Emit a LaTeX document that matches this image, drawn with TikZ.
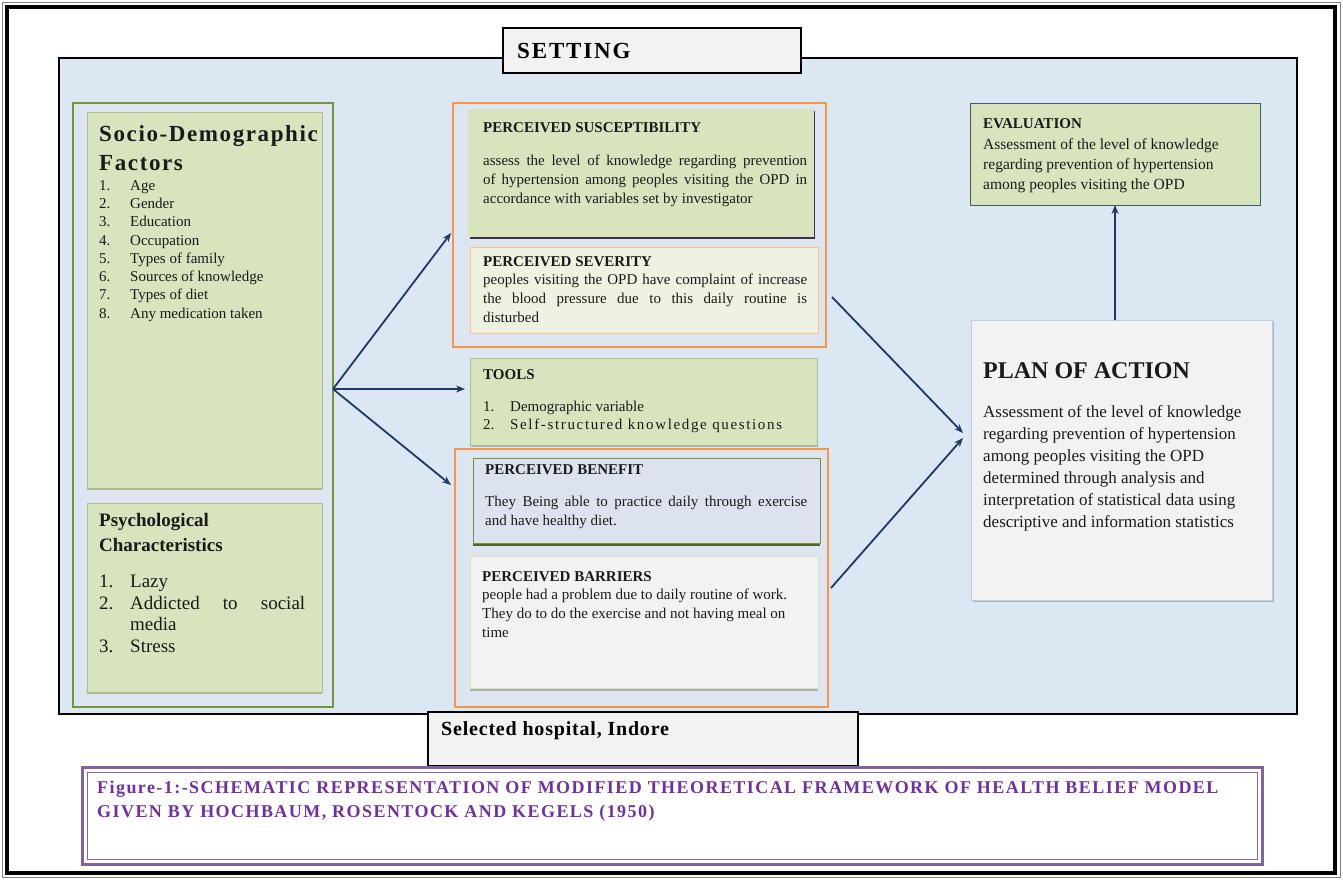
\documentclass[tikz,border=0pt]{standalone}
\usepackage{fontspec}
\setmainfont{Liberation Serif}
\usetikzlibrary{arrows.meta, positioning, calc, shadows}
\definecolor{ink}{HTML}{1A1A1A}
\definecolor{panelbg}{HTML}{DCE7F4}
\definecolor{framebg}{HTML}{DDE5F0}
\definecolor{olive}{HTML}{D7E4BD}
\definecolor{olivedk}{HTML}{77933C}
\definecolor{oliveshd}{HTML}{4F6228}
\definecolor{orng}{HTML}{F79646}
\definecolor{orngsoft}{HTML}{FAC08F}
\definecolor{sevfill}{HTML}{EEF2E0}
\definecolor{benfill}{HTML}{DCE3EF}
\definecolor{plumshd}{HTML}{3F3151}
\definecolor{paper}{HTML}{F2F2F2}
\definecolor{greyshd}{HTML}{A6A6A6}
\definecolor{evalrule}{HTML}{4A5866}
\definecolor{planrule}{HTML}{B7CDE5}
\definecolor{navy}{HTML}{1F3864}
\definecolor{capink}{HTML}{7030A0}
\definecolor{caprule}{HTML}{8064A2}
\newcommand{\fs}[2]{\fontsize{#1}{#2}\selectfont}
\newcommand{\num}[2][31pt]{\makebox[#1][l]{#2}}
\tikzset{
  >={Stealth[length=9pt, width=7pt]},
  %
  box/.style={draw, line width=0.8pt, inner sep=0pt, outer sep=0pt,
    anchor=north west},
  oliveb/.style={box, draw=olivedk!60, fill=olive},
  frameg/.style={box, draw=olivedk, line width=1.6pt, fill=framebg},
  frameo/.style={box, draw=orng, line width=1.8pt, fill=framebg},
  label/.style={box, draw=black, line width=2pt, fill=paper},
  %
  flow/.style={draw=navy, line width=1.8pt, ->},
  %
  ttl/.style={inner sep=0pt, anchor=north west, text=ink,
    font=\bfseries\fs{15}{17}},
  body/.style={inner sep=0pt, anchor=north west, text=ink, align=left,
    font=\fs{15}{19}},
}
\begin{document}
\begin{tikzpicture}[x=1pt, y=-1pt]
  \useasboundingbox (0,0) rectangle (1343,880);
  \fill[white] (0,0) rectangle (1343,880);

  % outer frame
  \draw[gray, line width=1.2pt] (2.5,2.5) rectangle (1340.5,877.5);
  \draw[black, line width=3.2pt] (7,7) rectangle (1335,873);

  % blue setting panel
  \node[box, draw=black, line width=2.4pt, fill=panelbg,
        minimum width=1238pt, minimum height=656pt] (panel) at (59,58) {};
  \node[label, minimum width=298pt, minimum height=45pt] (setting) at (503,28) {};
  \node[anchor=west, inner sep=0pt, font=\bfseries\fs{23}{26}\addfontfeature{LetterSpace=8}]
    (settingtxt) at (517,51) {SETTING};

  % =====================================================================
  % LEFT: factors
  % =====================================================================
  \node[frameg, minimum width=260pt, minimum height=604pt] (gframe) at (73,103) {};
  \node[oliveb, minimum width=235pt, minimum height=376pt,
        drop shadow={shadow xshift=0pt, shadow yshift=-2pt, fill=olivedk!70, opacity=.8}]
    (socio) at (87,112) {};
  \node[oliveb, minimum width=235pt, minimum height=189pt,
        drop shadow={shadow xshift=0pt, shadow yshift=-2pt, fill=olivedk!70, opacity=.8}]
    (psych) at (87,503) {};

  \node[body, font=\bfseries\fs{23}{29}\addfontfeature{LetterSpace=7}] (sociottl) at (99,125)
    {Socio-Demographic\\Factors};
  \node[body, font=\fs{15}{18.3}] (sociolist) at (99,180)
    {\num{1.}Age\\ \num{2.}Gender\\ \num{3.}Education\\ \num{4.}Occupation\\
     \num{5.}Types of family\\ \num{6.}Sources of knowledge\\
     \num{7.}Types of diet\\ \num{8.}Any medication taken};

  \node[body, font=\bfseries\fs{19}{25}] (psychttl) at (99,513)
    {Psychological\\Characteristics};
  \node[body, font=\fs{19}{21.5}] (psychlist) at (99,575)
    {\num{1.}Lazy\\ \num{2.}\makebox[175pt][s]{Addicted to social}\\
     \hspace*{31pt}media\\ \num{3.}Stress};

  % =====================================================================
  % MIDDLE: perceptions and tools
  % =====================================================================
  \node[frameo, minimum width=373pt, minimum height=244pt] (ob1) at (453,103) {};
  \node[oliveb, draw=olive, minimum width=345pt, minimum height=127pt,
        drop shadow={shadow xshift=2pt, shadow yshift=-2.5pt, fill=plumshd, opacity=1}]
    (susc) at (468,109) {};
  \node[box, draw=orngsoft, fill=sevfill, minimum width=348pt, minimum height=86pt]
    (sev) at (470,247) {};

  \node[ttl] (suscttl) at (483,122) {PERCEIVED SUSCEPTIBILITY};
  \node[body, text width=324pt, align=justify] (susctxt) at (483,155)
    {assess the level of knowledge regarding prevention\linebreak
     of hypertension among peoples visiting the OPD in\linebreak
     accordance with variables set by investigator};
  \node[ttl] (sevttl) at (483,256) {PERCEIVED SEVERITY};
  \node[body, text width=324pt, align=justify] (sevtxt) at (483,274)
    {peoples visiting the OPD have complaint of increase\linebreak
     the blood pressure due to this daily routine is\linebreak
     disturbed};

  \node[oliveb, minimum width=347pt, minimum height=87pt,
        drop shadow={shadow xshift=1pt, shadow yshift=-1.5pt, fill=greyshd, opacity=.8}]
    (tools) at (470,358) {};
  \node[ttl] (toolsttl) at (483,369) {TOOLS};
  \node[body, font=\fs{15}{18.3}] (toolslist) at (483,401)
    {\num[27pt]{1.}Demographic variable\\
     \num[27pt]{2.}\addfontfeature{LetterSpace=11}Self-structured knowledge questions};

  \node[frameo, minimum width=373pt, minimum height=258pt] (ob2) at (455,449) {};
  \node[box, draw=olivedk, fill=benfill, minimum width=347pt, minimum height=85pt,
        drop shadow={shadow xshift=0pt, shadow yshift=-2.5pt, fill=oliveshd, opacity=1}]
    (benefit) at (473,458) {};
  \node[box, draw=olive, fill=paper, minimum width=348pt, minimum height=132pt,
        drop shadow={shadow xshift=0pt, shadow yshift=-2.5pt, fill=greyshd, opacity=.9}]
    (barrier) at (470,556) {};

  \node[ttl] (benttl) at (485,464) {PERCEIVED BENEFIT};
  \node[body, text width=322pt, align=justify] (bentxt) at (485,496)
    {They Being able to practice daily through exercise\linebreak
     and have healthy diet.};
  \node[ttl] (barttl) at (482,571) {PERCEIVED BARRIERS};
  \node[body] (bartxt) at (482,589)
    {people had a problem due to daily routine of work.\\
     They do to do the exercise and not having meal on\\
     time};

  % =====================================================================
  % RIGHT: plan and evaluation
  % =====================================================================
  \node[box, draw=evalrule, fill=olive, minimum width=290pt, minimum height=102pt]
    (eval) at (970,103) {};
  \node[ttl] (evalttl) at (983,118) {EVALUATION};
  \node[body, font=\fs{15.5}{20}] (evaltxt) at (983,138)
    {Assessment of the level of knowledge\\
     regarding prevention of hypertension\\
     among peoples visiting the OPD};

  \node[box, draw=planrule, fill=paper, minimum width=301pt, minimum height=280pt,
        drop shadow={shadow xshift=1.5pt, shadow yshift=-2pt, fill=greyshd, opacity=.8}]
    (plan) at (971,320) {};
  \node[ttl, font=\bfseries\fs{24}{27}] (planttl) at (983,362) {PLAN OF ACTION};
  \node[body, font=\fs{17}{22}] (plantxt) at (983,405)
    {Assessment of the level of knowledge\\
     regarding prevention of hypertension\\
     among peoples visiting the OPD\\
     determined through analysis and\\
     interpretation of statistical data using\\
     descriptive and information statistics};

  % arrows
  \coordinate (hub) at ([yshift=16pt]gframe.east);
  \draw[flow] (hub) -- ([xshift=-2pt, yshift=-8pt]ob1.west);
  \draw[flow] (hub) -- ([xshift=-5pt]tools.west |- hub);
  \draw[flow] (hub) -- ([xshift=-4pt, yshift=-36pt]ob2.north west);
  \draw[flow] ([xshift=6pt, yshift=50pt]ob1.south east)
    -- ([xshift=-8pt, yshift=27pt]plan.west);
  \draw[flow] ([xshift=3pt, yshift=-10pt]ob2.east)
    -- ([xshift=-8pt, yshift=22pt]plan.west);
  \draw[flow, line width=2.6pt] (plan.north -| eval.south) -- (eval.south);

  % location tag
  \node[label, minimum width=430pt, minimum height=54pt,
        drop shadow={shadow xshift=1pt, shadow yshift=-1.5pt, fill=greyshd}]
    (hospital) at (428,712) {};
  \node[anchor=west, inner sep=0pt, font=\bfseries\fs{20}{23}\addfontfeature{LetterSpace=4}]
    (hospitaltxt) at (441,731) {Selected hospital, Indore};

  % caption
  \node[box, draw=caprule, line width=3pt, minimum width=1180pt, minimum height=97pt]
    (caption) at (82,767) {};
  \draw[caprule, line width=0.8pt] ([shift={(5pt,-5pt)}]caption.north west)
    rectangle ([shift={(-5pt,5pt)}]caption.south east);
  \node[body, text=capink, font=\bfseries\fs{18}{23.5}\addfontfeature{LetterSpace=8}]
    (captiontxt) at (97,781)
    {Figure-1:-SCHEMATIC REPRESENTATION OF MODIFIED THEORETICAL FRAMEWORK OF HEALTH BELIEF MODEL\\
     GIVEN BY HOCHBAUM, ROSENTOCK AND KEGELS (1950)};
\end{tikzpicture}
\end{document}
